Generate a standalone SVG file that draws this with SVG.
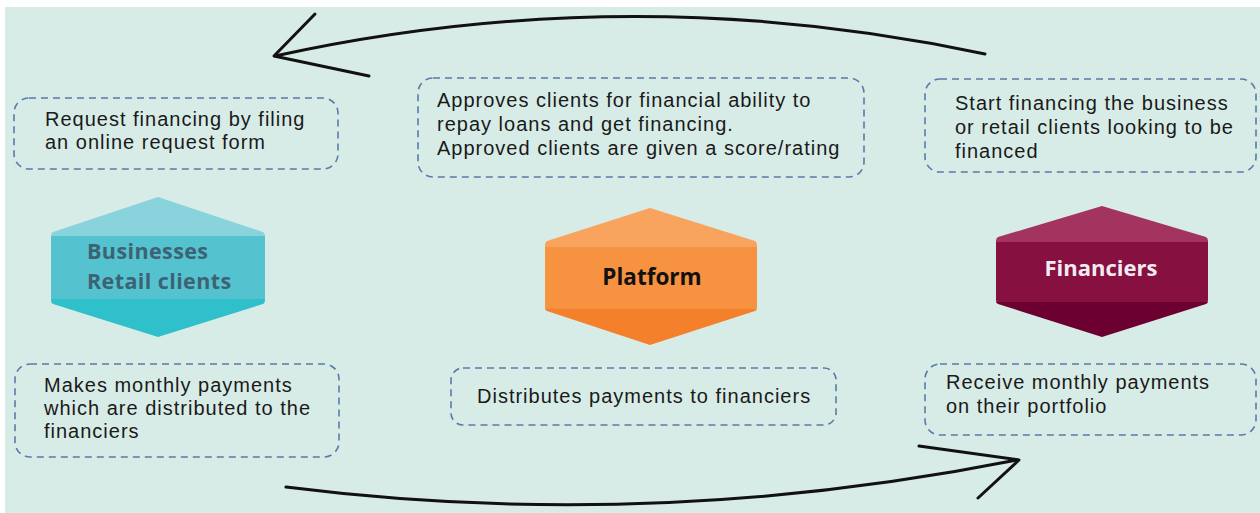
<svg xmlns="http://www.w3.org/2000/svg" width="1260" height="513" viewBox="0 0 1260 513">
<style>
.box{fill:none;stroke:#5a7aab;stroke-width:1.6;stroke-dasharray:7 5}
.t{font-family:"Liberation Sans",Arial,sans-serif;font-size:20px;letter-spacing:1px;fill:#1a1a1a}
.h{font-family:"Open Sans","Liberation Sans",sans-serif;font-weight:bold}
.conn{fill:none;stroke:#111;stroke-width:3;stroke-linecap:round;stroke-linejoin:round}
</style>
<defs>
<clipPath id="cL"><path d="M158 197 L263 232 Q265 233 265 236 L265 300 Q265 303 263 304 L158 337 L53 304 Q51 303 51 300 L51 236 Q51 233 53 232 Z"/></clipPath>
<clipPath id="cC"><path d="M650 208 L755 241 Q757 242 757 245 L757 307 Q757 310 755 311 L650 345 L547 311 Q545 310 545 307 L545 245 Q545 242 547 241 Z"/></clipPath>
<clipPath id="cR"><path d="M1102 206 L1206 237 Q1208 238 1208 241 L1208 300 Q1208 303 1206 304 L1102 337 L998 304 Q996 303 996 300 L996 241 Q996 238 998 237 Z"/></clipPath>
</defs>
<rect x="0" y="0" width="1260" height="513" fill="#ffffff"/>
<rect x="5" y="7" width="1255" height="506" fill="#d8ece7"/>

<g id="connectors">
<path class="conn" d="M985 54 Q630 -22 275 56"/>
<path class="conn" d="M315 14 L274 56 L369 76"/>
<path class="conn" d="M286 487 Q650 533 1017 460"/>
<path class="conn" d="M919 446 L1019 460 L978 498"/>
</g>

<g id="node-request">
<rect class="box" x="14" y="98" width="324" height="71" rx="15"/>
<text class="t" x="45" y="126">Request financing by filing</text>
<text class="t" x="45" y="149">an online request form</text>
</g>

<g id="node-approves">
<rect class="box" x="418" y="78" width="446" height="99" rx="15"/>
<text class="t" x="437" y="107">Approves clients for financial ability to</text>
<text class="t" x="437" y="131">repay loans and get financing.</text>
<text class="t" x="437" y="155">Approved clients are given a score/rating</text>
</g>

<g id="node-start">
<rect class="box" x="925" y="79" width="331" height="93" rx="15"/>
<text class="t" x="955" y="110">Start financing the business</text>
<text class="t" x="955" y="134">or retail clients looking to be</text>
<text class="t" x="955" y="158">financed</text>
</g>

<g id="node-businesses">
<g clip-path="url(#cL)">
<rect x="51" y="197" width="214" height="40" fill="#88d3dc"/>
<rect x="51" y="236" width="214" height="64" fill="#55c3cf"/>
<rect x="51" y="299" width="214" height="40" fill="#2fc0cb"/>
</g>
<text class="h" x="87" y="259" font-size="21.5" letter-spacing="0.4" fill="#3c6274">Businesses</text>
<text class="h" x="87" y="289" font-size="21.5" letter-spacing="0.4" fill="#3c6274">Retail clients</text>
</g>

<g id="node-platform">
<g clip-path="url(#cC)">
<rect x="545" y="208" width="212" height="40" fill="#f8a35e"/>
<rect x="545" y="247" width="212" height="63" fill="#f79241"/>
<rect x="545" y="309" width="212" height="38" fill="#f4802b"/>
</g>
<text class="h" x="652" y="285" font-size="22.5" text-anchor="middle" fill="#111">Platform</text>
</g>

<g id="node-financiers">
<g clip-path="url(#cR)">
<rect x="996" y="206" width="212" height="37" fill="#a2345f"/>
<rect x="996" y="242" width="212" height="61" fill="#861040"/>
<rect x="996" y="302" width="212" height="36" fill="#6c0131"/>
</g>
<text class="h" x="1101" y="276" font-size="22" text-anchor="middle" fill="#f2ecf2">Financiers</text>
</g>

<g id="node-makes">
<rect class="box" x="15" y="364" width="324" height="93" rx="15"/>
<text class="t" x="44" y="392">Makes monthly payments</text>
<text class="t" x="44" y="415">which are distributed to the</text>
<text class="t" x="44" y="438">financiers</text>
</g>

<g id="node-distributes">
<rect class="box" x="451" y="368" width="385" height="57" rx="12"/>
<text class="t" x="477" y="403">Distributes payments to financiers</text>
</g>

<g id="node-receive">
<rect class="box" x="925" y="364" width="331" height="71" rx="15"/>
<text class="t" x="946" y="389">Receive monthly payments</text>
<text class="t" x="946" y="413">on their portfolio</text>
</g>
</svg>
